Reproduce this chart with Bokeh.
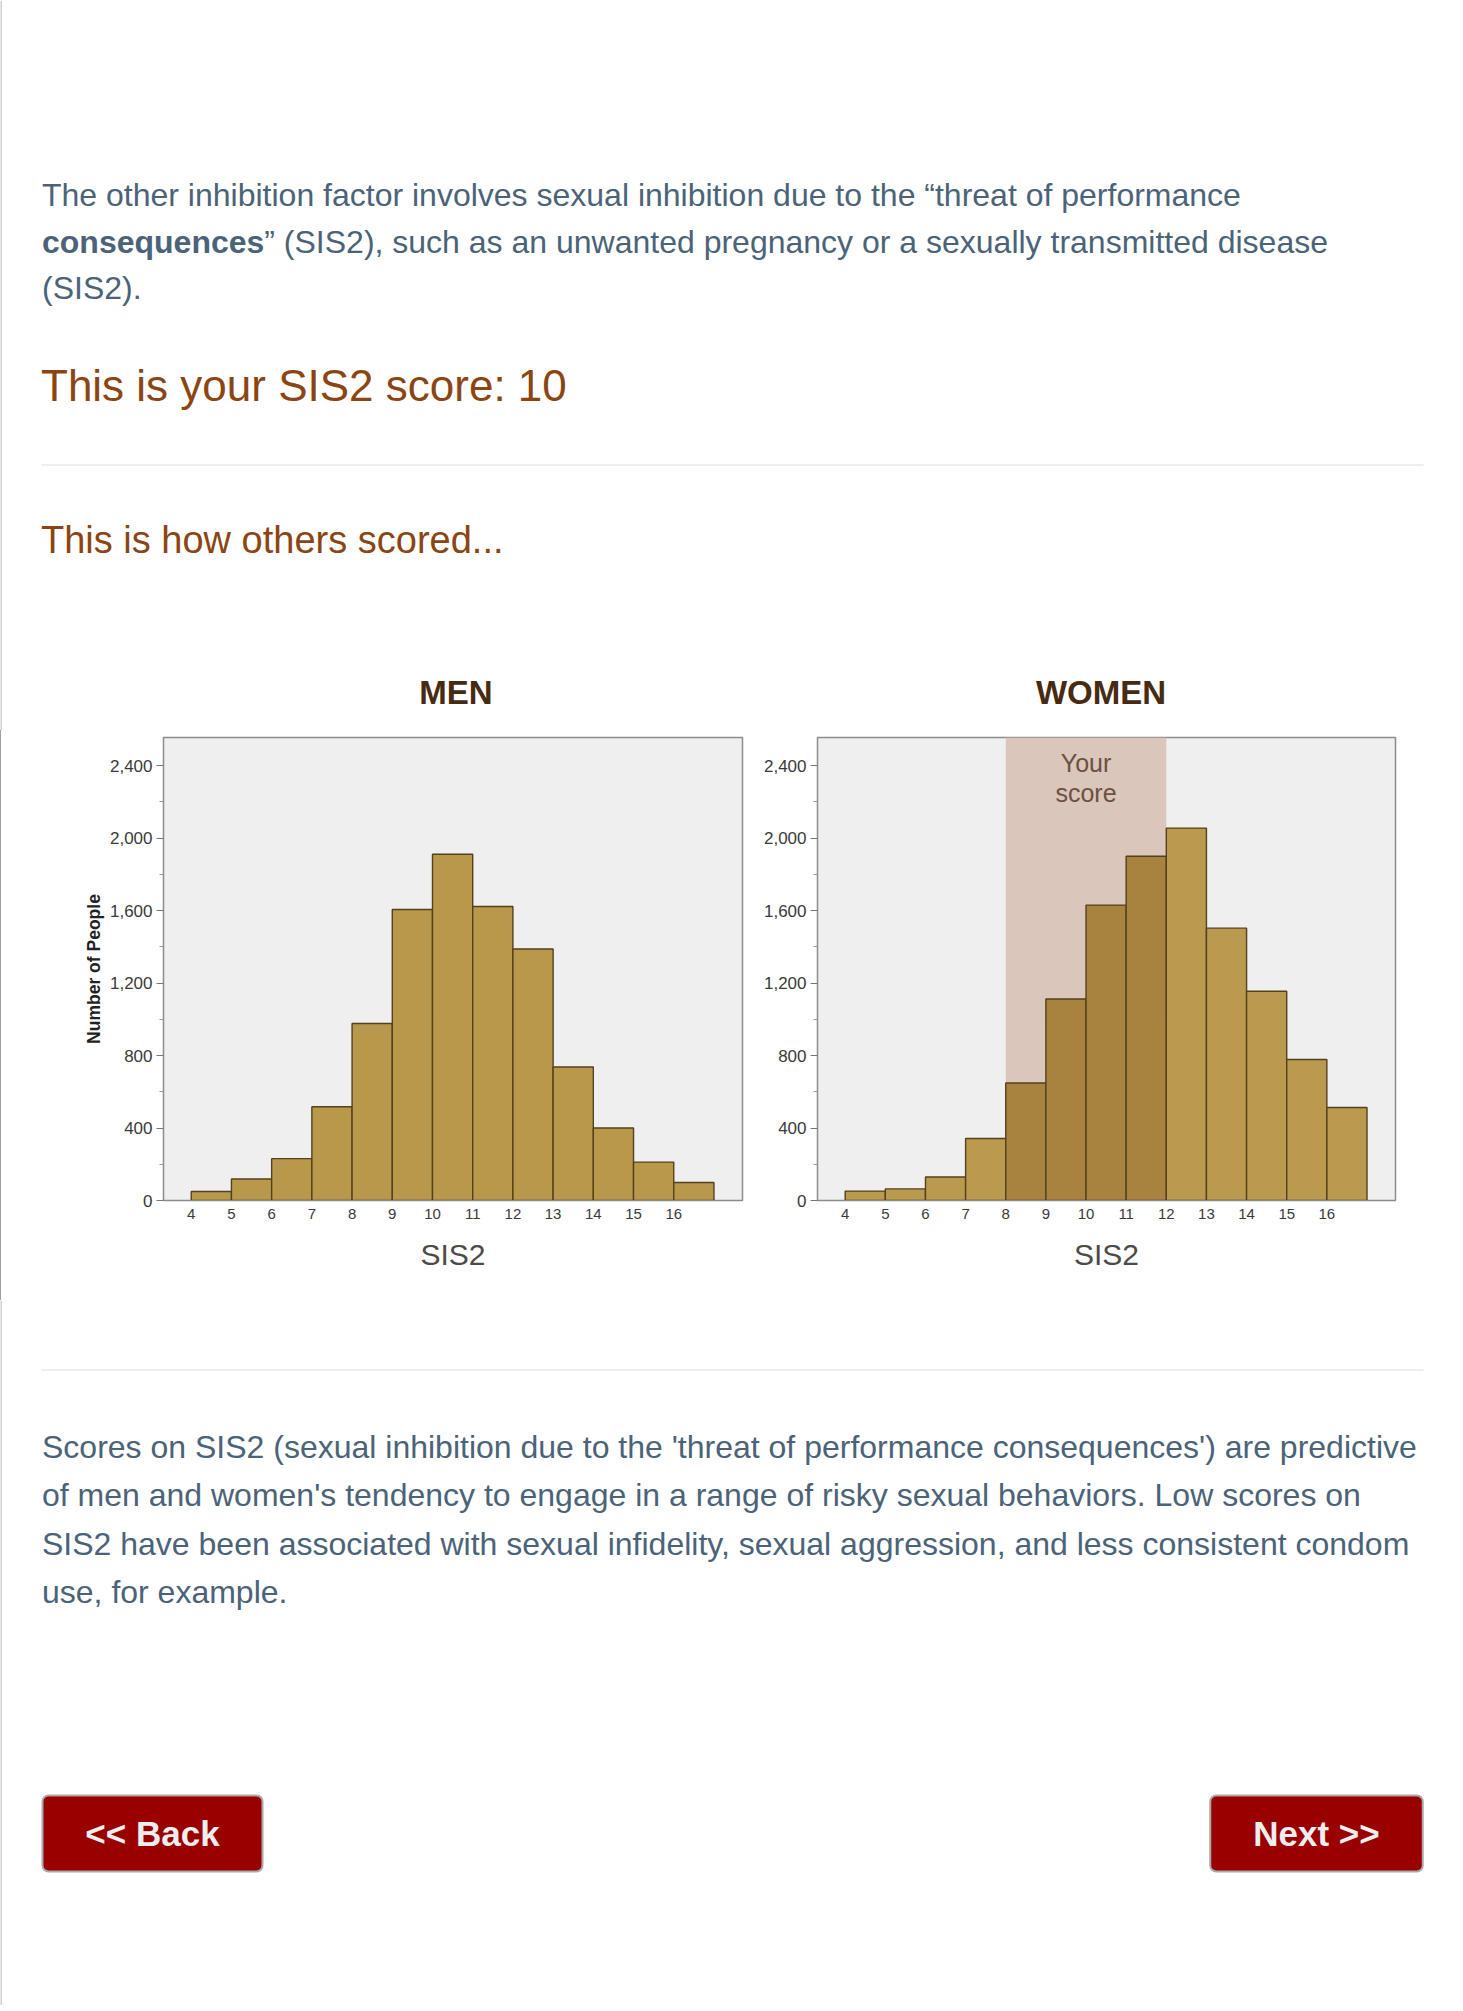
from bokeh.plotting import figure
from bokeh.models import Range1d, FixedTicker, NumeralTickFormatter, BoxAnnotation, ColumnDataSource
from bokeh.layouts import column, row
from bokeh.core.properties import value
from bokeh.embed import file_html
from bokeh.resources import INLINE

# ---------------- data ----------------
scores = [4, 5, 6, 7, 8, 9, 10, 11, 12, 13, 14, 15, 16]
men_counts = [50, 119, 231, 517, 977, 1606, 1911, 1622, 1388, 737, 400, 212, 99]
women_counts = [52, 64, 130, 342, 648, 1112, 1630, 1900, 2055, 1503, 1155, 778, 513]
y_ticks = [0, 400, 800, 1200, 1600, 2000, 2400]
y_minor_ticks = [200, 600, 1000, 1400, 1800, 2200]
your_score = 10
band_low, band_high = 8, 12
y_max = 2555
x_min, x_max = 3.31, 17.71

para1_lines = [
    "The other inhibition factor involves sexual inhibition due to the \u201cthreat of performance",
    "\u201d (SIS2), such as an unwanted pregnancy or a sexually transmitted disease",
    "(SIS2).",
]
para1_bold = "consequences"
headline = "This is your SIS2 score: 10"
subheading = "This is how others scored..."
chart_titles = ["MEN", "WOMEN"]
para2_lines = [
    "Scores on SIS2 (sexual inhibition due to the 'threat of performance consequences') are predictive",
    "of men and women's tendency to engage in a range of risky sexual behaviors. Low scores on",
    "SIS2 have been associated with sexual infidelity, sexual aggression, and less consistent condom",
    "use, for example.",
]
buttons = ["<< Back", "Next >>"]

# ---------------- style ----------------
FONT_NAME = "Liberation Sans"
FONT = value(FONT_NAME)
TEXT_COL = "#4b6379"
BROWN = "#8B4513"
PAGE_W = 1462
TOP_H = 730
MID_H = 570
BOT_H = 705


def text_fig(h):
    p = figure(width=PAGE_W, height=h, x_range=Range1d(0, PAGE_W), y_range=Range1d(h, 0),
               x_axis_location=None, y_axis_location=None, toolbar_location=None,
               output_backend="svg", min_border=0, title=None)
    p.outline_line_color = None
    p.grid.visible = False
    p.background_fill_color = "white"
    p.border_fill_color = "white"
    # thin page edge line on the left
    p.segment(x0=[0.5], x1=[0.5], y0=[0], y1=[h], line_color="#a0a0a0", line_width=1)
    return p


def add_text(p, xs, ys, texts, size, color, style="normal", align="left"):
    src = ColumnDataSource(dict(x=xs, y=ys, t=texts))
    p.text(x="x", y="y", text="t", source=src, text_font=FONT, text_font_size=size,
           text_color=color, text_font_style=style, text_align=align,
           text_baseline="alphabetic")


# ---------------- top text block ----------------
top = text_fig(TOP_H)
L = 41.5
add_text(top, [L, L + 222.3, L], [194.5, 241, 287.5], para1_lines, "32px", TEXT_COL)
add_text(top, [L], [241], [para1_bold], "32px", TEXT_COL, style="bold")
add_text(top, [L - 1], [384.5], [headline], "44px", BROWN)
top.segment(x0=[41], x1=[1423], y0=[464.5], y1=[464.5], line_color="#eeeeee", line_width=2)
add_text(top, [L - 1], [539], [subheading], "38px", BROWN)
add_text(top, [455.5, 1100.5], [692, 692], chart_titles, "33px", "#472a12", style="bold", align="center")


# ---------------- charts ----------------
def hist_fig(counts, width, bl, br, bt, bb, ylabel, colors):
    p = figure(width=width, height=MID_H, x_range=Range1d(x_min, x_max), y_range=Range1d(0, y_max),
               toolbar_location=None, output_backend="svg", title=None,
               min_border_left=bl, min_border_right=br, min_border_top=bt, min_border_bottom=bb)
    p.background_fill_color = "#efefef"
    p.border_fill_color = "white"
    p.outline_line_color = "#8c8c8c"
    p.outline_line_width = 1.5
    p.grid.visible = False
    src = ColumnDataSource(dict(left=scores, right=[s + 1 for s in scores], top=counts,
                                bottom=[0] * len(scores), color=colors))
    p.quad(left="left", right="right", top="top", bottom="bottom", source=src,
           fill_color="color", line_color="#54401d", line_width=1.4)
    ya = p.yaxis[0]
    ya.ticker = FixedTicker(ticks=y_ticks, minor_ticks=y_minor_ticks)
    ya.formatter = NumeralTickFormatter(format="0,0")
    ya.major_tick_out = 7
    ya.major_tick_in = 0
    ya.minor_tick_out = 4
    ya.minor_tick_in = 0
    ya.major_tick_line_color = "#777777"
    ya.minor_tick_line_color = "#999999"
    ya.axis_line_color = "#8c8c8c"
    ya.major_label_standoff = 4
    ya.major_label_text_font = FONT_NAME
    ya.major_label_text_font_size = "17px"
    ya.major_label_text_color = "#3a3a3a"
    if ylabel:
        ya.axis_label = ylabel
        ya.axis_label_text_font = FONT_NAME
        ya.axis_label_text_font_size = "17.5px"
        ya.axis_label_text_font_style = "bold"
        ya.axis_label_text_color = "#222222"
        ya.axis_label_standoff = 3
    xa = p.xaxis[0]
    xa.ticker = FixedTicker(ticks=scores)
    xa.major_tick_out = 0
    xa.major_tick_in = 0
    xa.minor_tick_line_color = None
    xa.axis_line_color = "#8c8c8c"
    xa.major_label_standoff = 8
    xa.major_label_text_font = FONT_NAME
    xa.major_label_text_font_size = "15px"
    xa.major_label_text_color = "#3a3a3a"
    xa.axis_label = "SIS2"
    xa.axis_label_text_font = FONT_NAME
    xa.axis_label_text_font_size = "30px"
    xa.axis_label_text_font_style = "normal"
    xa.axis_label_text_color = "#4d4a48"
    xa.axis_label_standoff = 16
    return p


men_colors = ["#b8994c"] * len(scores)
women_colors = ["#a8823f" if band_low <= s < band_high else "#b99a4e" for s in scores]

men = hist_fig(men_counts, 752, 162, 11, 6, 97, "Number of People", men_colors)
women = hist_fig(women_counts, 710, 64, 68, 7, 100, None, women_colors)
women.add_layout(BoxAnnotation(left=band_low, right=band_high, fill_color="#dac6bb",
                               fill_alpha=1.0, line_color=None, level="underlay"))
women.text(x=[your_score, your_score], y=[2417, 2246], text=["Your", "score"],
           text_font=FONT, text_font_size="25px", text_color="#6e5040",
           text_align="center", text_baseline="middle")

# ---------------- bottom text block ----------------
bot = text_fig(BOT_H)
bot.segment(x0=[41], x1=[1423], y0=[69.5], y1=[69.5], line_color="#eeeeee", line_width=2)
add_text(bot, [L] * 4, [146.6, 194.9, 243.2, 291.5], para2_lines, "32px", TEXT_COL)
bot.rect(x=[152, 1316], y=[533, 533], width=[220, 212.5], height=[76, 76],
         fill_color="#990000", line_color="#aaaaaa", line_width=2, border_radius=6)
add_text(bot, [152, 1316], [532.5, 532.5], buttons, "35px", "#eeeeee", style="bold", align="center")

charts = row(men, women, styles={"border-left": "1px solid #a0a0a0"})
layout = column(top, charts, bot)

with open("out.html", "w", encoding="utf-8") as f:
    f.write(file_html(layout, INLINE))
